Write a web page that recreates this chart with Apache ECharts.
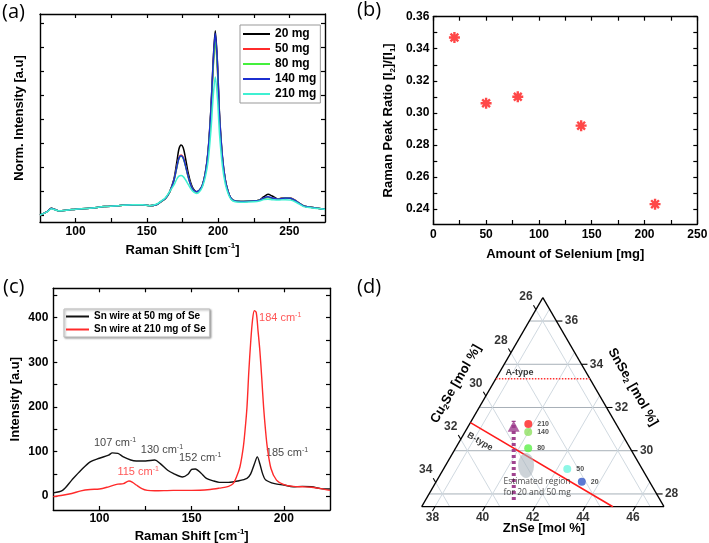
<!DOCTYPE html>
<html><head><meta charset="utf-8">
<script src="https://cdn.jsdelivr.net/npm/echarts@6/dist/echarts.min.js"></script>
<style>html,body{margin:0;padding:0;background:#fff}#c{width:709px;height:543px}</style>
</head><body><div id="c"></div>
<script>
const F = "'Liberation Sans', Arial, sans-serif";

// ---------------- (a) Raman spectra, normalized ----------------
const aShift = [75,80,83,85,88,95,100,110,120,130,140,147,152,157,160,163,166,
  169,171,172.5,174,175.5,177,179,181,183,185,187,
  189,191,193,195,196.5,198,199.5,201,203,205,207,209,
  212,218,225,229,232,235,238,242,247,251,255,260,265,270,275];
const a20 = [0.000,0.014,0.028,0.024,0.018,0.021,0.024,0.028,0.035,0.039,0.043,0.043,0.039,0.044,0.056,0.069,0.097,
  0.150,0.220,0.275,0.292,0.280,0.240,0.175,0.130,0.105,0.097,0.104,
  0.125,0.175,0.270,0.450,0.640,0.768,0.640,0.420,0.245,0.148,0.098,0.070,
  0.058,0.056,0.058,0.063,0.076,0.086,0.079,0.067,0.072,0.069,0.056,0.038,0.032,0.028,0.024];
const a50 = [0.000,0.014,0.028,0.024,0.018,0.021,0.024,0.028,0.035,0.039,0.043,0.043,0.039,0.044,0.056,0.069,0.095,
  0.145,0.200,0.238,0.250,0.240,0.210,0.160,0.122,0.102,0.096,0.103,
  0.124,0.172,0.262,0.435,0.615,0.735,0.612,0.402,0.237,0.145,0.097,0.069,
  0.058,0.056,0.058,0.062,0.070,0.074,0.070,0.067,0.072,0.071,0.058,0.038,0.032,0.028,0.024];
const a80 = [0.000,0.014,0.028,0.024,0.018,0.021,0.024,0.028,0.035,0.039,0.043,0.043,0.039,0.044,0.056,0.069,0.095,
  0.143,0.197,0.235,0.246,0.236,0.207,0.158,0.121,0.101,0.096,0.103,
  0.124,0.171,0.260,0.430,0.607,0.725,0.604,0.397,0.235,0.144,0.097,0.069,
  0.058,0.056,0.058,0.062,0.069,0.073,0.070,0.066,0.071,0.070,0.057,0.038,0.032,0.028,0.024];
const a140 = [0.000,0.014,0.028,0.024,0.018,0.021,0.024,0.028,0.035,0.039,0.043,0.043,0.039,0.044,0.056,0.069,0.096,
  0.145,0.200,0.237,0.247,0.238,0.208,0.160,0.122,0.102,0.097,0.104,
  0.125,0.174,0.267,0.445,0.632,0.757,0.630,0.413,0.242,0.147,0.098,0.070,
  0.058,0.056,0.058,0.062,0.071,0.076,0.071,0.066,0.071,0.070,0.057,0.038,0.032,0.028,0.024];
const a210 = [0.000,0.013,0.026,0.023,0.018,0.021,0.024,0.028,0.035,0.039,0.043,0.043,0.039,0.046,0.058,0.072,0.098,
  0.125,0.150,0.162,0.165,0.160,0.148,0.128,0.108,0.095,0.090,0.098,
  0.118,0.158,0.225,0.355,0.490,0.575,0.488,0.335,0.205,0.130,0.090,0.066,
  0.055,0.053,0.055,0.058,0.064,0.066,0.064,0.062,0.064,0.062,0.052,0.035,0.030,0.027,0.023];
const aNames = ['20 mg','50 mg','80 mg','140 mg','210 mg'];
const aSeries = [a20, a50, a80, a140, a210];
const aColors = ['#000000','#ff2b2b','#44f03c','#1c2fd0','#3ff0d2'];

// ---------------- (b) peak ratio ----------------
const bSelenium = [20, 50, 80, 140, 210];
const bRatio = [0.347, 0.306, 0.310, 0.292, 0.243];

// ---------------- (c) Sn wire spectra ----------------
const c50Shift = [75,80,85,90,95,100,105,107,110,113,117,120,125,130,133,137,140,145,148,150,152,155,158,162,165,170,175,180,182,184,185.6,187,188.5,190,195,200,205,210,215,220,225];
const c50Int   = [7.5,13,36,58,77,85,92,97,96,88,81,79,79,81,73,58,51,43,49,60,61,52,40,34,31,31,34,40,50,72,88,72,50,37,28,25,21,22,21,17,16];
const c210Shift = [75,80,85,90,95,100,105,110,113,116,118,120,123,126,130,140,150,160,165,170,172.5,174.5,176.2,178,179,180,181,182,183,184,185,186,187,188,189,190,191,193,196,200,205,210,215,220,225];
const c210Int   = [-1,2,6,12,15,16,21,27,28,34,31,25,17,13,12,13,13,15,18,22,28,45,66,110,150,200,280,345,395,416,412,370,325,265,200,150,110,62,36,26,22,21,20,17,13];
const cNames = ['Sn wire at 50 mg of Se', 'Sn wire at 210 mg of Se'];
const cPeakText = ['107','130','152','185','115','184'];
const cPeakIsRed = [false,false,false,false,true,true];

// ---------------- (d) ternary ----------------
const dSamples = ['210','140','80','50','20'];
const dZnSe   = [39.81, 39.99, 40.37, 42.41, 43.28];
const dSnSe2  = [31.24, 30.87, 30.11, 29.15, 28.57];
const dColors = ['#ff1f1f','#8fe060','#5ef04a','#70f5e0','#3558c8'];
const dZnSeTicks  = [38,40,42,44,46];
const dSnSe2Ticks = [28,30,32,34,36];
const dCu2SeTicks = [26,28,30,32,34];
const dATypeSnSe2 = 33.33;
const dBTypeZnSe = [37.47, 45.1], dBTypeSnSe2 = [31.3, 27.41];
const dArrowZnSe = [40.99, 39.15], dArrowSnSe2 = [27.72, 31.39];
const dRegionZnSe = 40.68, dRegionSnSe2 = 29.32;

const R = 9.67, Z0 = 37.47, S0 = 27.41, C0 = 100 - R - Z0 - S0, dT = Math.sqrt(3)/2;
function tern(zn, sn){ const fz=(zn-Z0)/R, fs=(sn-S0)/R; return [fz+0.5*fs, fs*dT]; }

// ---------------- axes helpers ----------------
const richName = {
  sup:{fontFamily:F,fontWeight:'bold',fontSize:8,color:'#000',padding:[0,0,8,0]},
  sub:{fontFamily:F,fontWeight:'bold',fontSize:8,color:'#000',padding:[7,0,0,0]}
};
function ax(gi, pos, min, max, ticks, labels, fmt, margin, name, nameGap){
  const o = {
    type:'value', gridIndex:gi, position:pos, min:min, max:max,
    axisLine:{show:true, onZero:false, lineStyle:{color:'#000', width:1.4}},
    axisTick:{show:true, inside:true, length:4, customValues:ticks, lineStyle:{color:'#000', width:1.2}},
    axisLabel: labels ? {show:true, customValues:labels, formatter:fmt||undefined, margin:margin,
       color:'#000', fontFamily:F, fontWeight:'bold', fontSize:12} : {show:false},
    splitLine:{show:false}
  };
  if (name){
    o.name = name; o.nameLocation='middle'; o.nameGap=nameGap;
    o.nameTextStyle = {fontFamily:F, fontWeight:'bold', fontSize:13, color:'#000', rich:richName};
  }
  return o;
}
const aXT=[100,125,150,175,200,225,250], aYT=[0,0.1,0.2,0.3,0.4,0.5,0.6,0.7,0.8];
const bXT=[0,25,50,75,100,125,150,175,200,225,250];
const bYT=[0.24,0.25,0.26,0.27,0.28,0.29,0.30,0.31,0.32,0.33,0.34,0.35,0.36];
const bYL=[0.24,0.26,0.28,0.30,0.32,0.34,0.36];
const cXT=[100,125,150,175,200], cYT=[0,50,100,150,200,250,300,350,400,450];

const xAxis = [
  ax(0,'bottom',75,275,aXT,[100,150,200,250],null,4,'Raman Shift [cm{sup|-1}]',20),
  ax(0,'top',75,275,aXT,null),
  ax(1,'bottom',0,250,bXT,[0,50,100,150,200,250],null,5,'Amount of Selenium [mg]',24),
  ax(1,'top',0,250,bXT,null),
  ax(2,'bottom',75,225,cXT,[100,150,200],null,3,'Raman Shift [cm{sup|-1}]',18),
  ax(2,'top',75,225,cXT,null),
  {type:'value', gridIndex:3, min:0, max:1, show:false}
];
const yAxis = [
  ax(0,'left',-0.0292,0.8375,aYT,null,null,0,'Norm. Intensity [a.u]',14),
  ax(0,'right',-0.0292,0.8375,aYT,null),
  ax(1,'left',0.2306,0.36,bYT,bYL,v=>v.toFixed(2),4,'Raman Peak Ratio [I{sub|2}]/[I{sub|1}]',37),
  ax(1,'right',0.2306,0.36,bYT,null),
  ax(2,'left',-31,466,cYT,[0,100,200,300,400],null,5,'Intensity [a.u]',31),
  ax(2,'right',-31,466,cYT,null),
  {type:'value', gridIndex:3, min:0, max:dT, show:false}
];

// ---------------- series ----------------
const series = [];
aSeries.forEach((arr,i)=>{
  series.push({type:'line', name:aNames[i], xAxisIndex:0, yAxisIndex:0, showSymbol:false, symbol:'none',
    smooth:0.3, data: aShift.map((x,j)=>[x, arr[j]]),
    lineStyle:{color:aColors[i], width:1.5}, itemStyle:{color:aColors[i]}, z:2+i});
});
series.push({type:'scatter', name:'ratio', xAxisIndex:2, yAxisIndex:2,
  symbol:'path://M5 0L5 10M0 5L10 5M1.46 1.46L8.54 8.54M1.46 8.54L8.54 1.46', symbolSize:11,
  itemStyle:{color:'#ff1a1a', borderColor:'#ff1a1a', borderWidth:2.4},
  data: bSelenium.map((x,i)=>[x, bRatio[i]])});
series.push({type:'line', name:cNames[0], xAxisIndex:4, yAxisIndex:4, showSymbol:false, symbol:'none', smooth:0.3,
  data:c50Shift.map((x,i)=>[x,c50Int[i]]), lineStyle:{color:'#111', width:1.4}, itemStyle:{color:'#111'}});
series.push({type:'line', name:cNames[1], xAxisIndex:4, yAxisIndex:4, showSymbol:false, symbol:'none', smooth:0.3,
  data:c210Shift.map((x,i)=>[x,c210Int[i]]), lineStyle:{color:'#ff2a2a', width:1.4}, itemStyle:{color:'#ff2a2a'}});
// peak annotations (label anchor positions in data units)
const cAnnPos = [[108.5,119],[133.9,103],[154.6,85],[201.7,96],[121,54],[198,399]];
series.push({type:'scatter', name:'ann', xAxisIndex:4, yAxisIndex:4, symbolSize:1, itemStyle:{color:'transparent'}, silent:true,
  data: cPeakText.map((t,i)=>({value:cAnnPos[i], name:t, label:{color: cPeakIsRed[i]?'#ff2a2a':'#111'}})),
  label:{show:true, position:'inside', formatter:p=>p.name+' cm{s|-1}', fontFamily:F, fontSize:11,
    rich:{s:{fontFamily:F, fontSize:7, padding:[0,0,7,0]}}}});

// ternary
function segSeries(segs, style, z){
  return {type:'custom', xAxisIndex:6, yAxisIndex:6, silent:true, z:z, data:segs,
    encode:{x:[0,2], y:[1,3]},
    renderItem:(p, api)=>{
      const a = api.coord([api.value(0), api.value(1)]);
      const b = api.coord([api.value(2), api.value(3)]);
      return {type:'line', shape:{x1:a[0],y1:a[1],x2:b[0],y2:b[1]}, style:style};
    }};
}
function tickSeries(pts, dx, dy){
  return {type:'custom', xAxisIndex:6, yAxisIndex:6, silent:true, z:3, data:pts,
    encode:{x:0, y:1},
    renderItem:(p, api)=>{
      const a = api.coord([api.value(0), api.value(1)]);
      return {type:'line', shape:{x1:a[0],y1:a[1],x2:a[0]+dx,y2:a[1]+dy}, style:{stroke:'#000', lineWidth:1.1}};
    }};
}
const hLines = dSnSe2Ticks.map(s=>{const fs=(s-S0)/R; return [0.5*fs, fs*dT, 1-0.5*fs, fs*dT];});
const zLines = dZnSeTicks.map(z=>{const fz=(z-Z0)/R; return [fz, 0, fz+0.5*(1-fz), (1-fz)*dT];});
const cLines = dCu2SeTicks.map(c=>{const fc=(c-C0)/R; return [1-fc, 0, 0.5*(1-fc), (1-fc)*dT];});
series.push(segSeries(hLines, {stroke:'#a7b0b8', lineWidth:1}, 1));
series.push(segSeries(zLines.concat(cLines), {stroke:'#cbd5dc', lineWidth:0.9}, 1));
series.push(segSeries([[0,0,1,0],[1,0,0.5,dT],[0.5,dT,0,0]], {stroke:'#000', lineWidth:1.3}, 3));
const zPts = dZnSeTicks.map(z=>[(z-Z0)/R, 0]);
const sPts = dSnSe2Ticks.map(s=>{const fs=(s-S0)/R; return [1-0.5*fs, fs*dT];});
const cPts = dCu2SeTicks.map(c=>{const fs=1-(c-C0)/R; return [0.5*fs, fs*dT];});
series.push(tickSeries(zPts, -2.5, 4.3));
series.push(tickSeries(sPts, 6, 0));
series.push(tickSeries(cPts, -2.5, -4.3));
function labelSeries(pts, texts, off){
  return {type:'scatter', xAxisIndex:6, yAxisIndex:6, symbolSize:1, itemStyle:{color:'transparent'}, silent:true, z:4,
    data: pts.map((p,i)=>({value:p, name:String(texts[i])})),
    label:{show:true, position:'inside', offset:off, formatter:'{b}', color:'#000', fontFamily:F, fontWeight:'bold', fontSize:12}};
}
series.push(labelSeries(zPts, dZnSeTicks, [-2.5,11]));
series.push(labelSeries(sPts, dSnSe2Ticks, [15,0]));
series.push(labelSeries(cPts, dCu2SeTicks, [-10,-12.5]));
// A-type / B-type lines
const aFs = (dATypeSnSe2-S0)/R;
series.push({type:'line', xAxisIndex:6, yAxisIndex:6, symbol:'none', silent:true, z:5,
  data:[[0.5*aFs, aFs*dT],[1-0.5*aFs, aFs*dT]], lineStyle:{color:'#ff3030', width:1.5, type:[1.5,1.5]}});
series.push({type:'line', xAxisIndex:6, yAxisIndex:6, symbol:'none', silent:true, z:5,
  data:dBTypeZnSe.map((z,i)=>tern(z, dBTypeSnSe2[i])), lineStyle:{color:'#ff1a1a', width:1.6}});
// estimated region ellipse
series.push({type:'scatter', xAxisIndex:6, yAxisIndex:6, silent:true, z:6, symbol:'circle', symbolSize:[16,25],
  itemStyle:{color:'rgba(168,178,188,0.72)'}, data:[tern(dRegionZnSe, dRegionSnSe2)]});
// arrow
series.push({type:'line', xAxisIndex:6, yAxisIndex:6, symbol:'none', silent:true, z:6,
  data:dArrowZnSe.map((z,i)=>tern(z, dArrowSnSe2[i])), lineStyle:{color:'#a0438f', width:4, type:[3,3]}});
series.push({type:'scatter', xAxisIndex:6, yAxisIndex:6, silent:true, z:7, symbol:'triangle', symbolSize:[12,11],
  symbolOffset:[0,'50%'], itemStyle:{color:'#9c3b8c'}, data:[tern(dArrowZnSe[1], dArrowSnSe2[1])]});
// samples
series.push({type:'scatter', xAxisIndex:6, yAxisIndex:6, silent:true, z:8, symbol:'circle', symbolSize:8,
  data:dSamples.map((n,i)=>({value:tern(dZnSe[i], dSnSe2[i]), name:n, itemStyle:{color:dColors[i]}})),
  label:{show:true, position:'right', distance:5, formatter:'{b}', color:'#222', fontFamily:F, fontWeight:'bold', fontSize:7}});
// text annotations in the ternary
series.push({type:'scatter', xAxisIndex:6, yAxisIndex:6, silent:true, z:9, symbolSize:1, itemStyle:{color:'transparent'},
  data:[
    {value:tern(38.26,33.63), name:'A-type'},
    {value:tern(38.29,30.42), name:'B-type', label:{rotate:-30}},
    {value:tern(40.04,28.80), name:'Estimated region\nfor 20 and 50 mg',
      label:{align:'left', verticalAlign:'top', fontWeight:'normal', fontFamily:"'Open Sans', sans-serif", fontSize:8.5, lineHeight:10.5, color:'#222'}}
  ],
  label:{show:true, position:'inside', formatter:'{b}', color:'#000', fontFamily:F, fontWeight:'bold', fontSize:9}});

const option = {
  animation:false,
  backgroundColor:'#fff',
  grid:[
    {left:40, top:14, width:285, height:208, outerBoundsMode:'none'},
    {left:433.3, top:16.7, width:264, height:207.3, outerBoundsMode:'none'},
    {left:53.3, top:288.3, width:276.7, height:221.7, outerBoundsMode:'none'},
    {left:421.7, top:297.7, width:242.3, height:209, outerBoundsMode:'none'}
  ],
  xAxis: xAxis, yAxis: yAxis,
  legend:[
    {data:aNames, orient:'vertical', left:240, top:25, itemWidth:27, itemHeight:2, itemGap:3, icon:'rect',
     padding:[3,4,3,3], borderColor:'#999', borderWidth:1, selectedMode:false,
     textStyle:{fontFamily:F, fontWeight:'bold', fontSize:12, color:'#000', lineHeight:12}},
    {data:cNames, orient:'vertical', left:64, top:309, itemWidth:23, itemHeight:2, itemGap:2, icon:'rect',
     padding:[2,4,2,2], borderColor:'#bbb', borderWidth:1, backgroundColor:'#fff', selectedMode:false,
     shadowColor:'rgba(0,0,0,0.35)', shadowBlur:2, shadowOffsetX:1, shadowOffsetY:1,
     textStyle:{fontFamily:F, fontWeight:'bold', fontSize:10, color:'#000', lineHeight:11}}
  ],
  graphic:[
    {type:'text', x:2, y:12, style:{text:'(a)', font:"20px 'Open Sans', sans-serif", fill:'#000', verticalAlign:'middle'}},
    {type:'text', x:357, y:10, style:{text:'(b)', font:"20px 'Open Sans', sans-serif", fill:'#000', verticalAlign:'middle'}},
    {type:'text', x:3, y:287, style:{text:'(c)', font:"20px 'Open Sans', sans-serif", fill:'#000', verticalAlign:'middle'}},
    {type:'text', x:357, y:287, style:{text:'(d)', font:"20px 'Open Sans', sans-serif", fill:'#000', verticalAlign:'middle'}},
    {type:'text', x:544, y:528, style:{text:'ZnSe [mol %]', font:"bold 13px "+F, fill:'#000', align:'center', verticalAlign:'middle'}},
    {type:'text', x:456, y:384, rotation:Math.PI/3, style:{text:'Cu{s|2}Se [mol %]', font:"bold 13px "+F, fill:'#000', align:'center', verticalAlign:'middle',
      rich:{s:{font:"bold 8px "+F, fill:'#000', padding:[7,0,0,0]}}}},
    {type:'text', x:633, y:387, rotation:-Math.PI/3, style:{text:'SnSe{s|2} [mol %]', font:"bold 13px "+F, fill:'#000', align:'center', verticalAlign:'middle',
      rich:{s:{font:"bold 8px "+F, fill:'#000', padding:[7,0,0,0]}}}}
  ],
  series: series
};
const chart = echarts.init(document.getElementById('c'), null, {width:709, height:543});
chart.setOption(option);
</script></body></html>
